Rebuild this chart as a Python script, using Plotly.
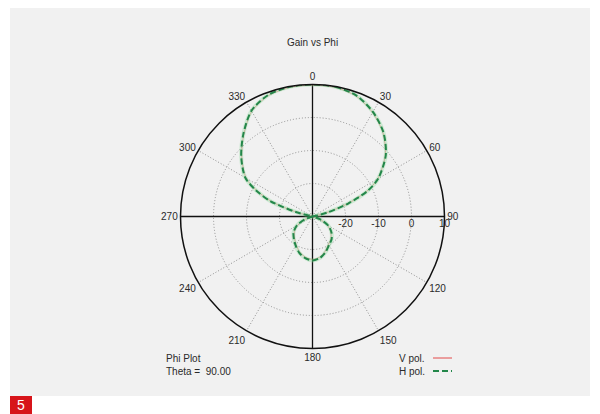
import plotly.graph_objects as go

phi = [0, 10, 20, 30, 40, 50, 60, 65, 70, 75, 80, 90, 100, 110, 120, 130, 140,
       150, 160, 170, 180, 190, 200, 210, 220, 230, 240, 250, 260, 270, 280,
       285, 290, 295, 300, 310, 320, 330, 340, 350, 360]
h_pol = [10.0, 9.9, 9.0, 6.6, 3.4, -1.0, -7.0, -11.5, -18.5, -25.5, -30, -30, -30,
         -27.5, -24.5, -22.5, -21.0, -20.0, -18.5, -17.2, -16.7, -17.2, -18.3,
         -19.8, -21.2, -22.5, -24.5, -27.5, -30, -30, -30, -25, -16.5, -11.0,
         -6.5, -1.8, 2.6, 7.0, 9.2, 9.9, 10.0]
v_pol = [9.8, 9.7, 8.8, 6.4, 3.2, -1.2, -7.2, -11.8, -18.8, -25.8, -30, -30, -30,
         -27.8, -24.8, -22.8, -21.3, -20.3, -18.8, -17.5, -17.0, -17.5, -18.6,
         -20.1, -21.5, -22.8, -24.8, -27.8, -30, -30, -30, -25.3, -16.8, -11.3,
         -6.8, -2.0, 2.4, 6.8, 9.0, 9.7, 9.8]

r_min, r_max = -30, 10
r_ticks = [-20, -10, 0, 10]
theta_ticks = list(range(0, 360, 30))
axis_dirs = [0, 90]

font = "Liberation Sans, Arial, sans-serif"
txt_color = "#2a2a2a"

fig = go.Figure()

# krzyż osi (linie ciągłe przez środek)
for a in axis_dirs:
    fig.add_trace(go.Scatterpolar(
        r=[r_max, r_min, r_max], theta=[a, a, a + 180], mode="lines",
        line=dict(color="#111111", width=1.3), showlegend=False, hoverinfo="skip"
    ))

fig.add_trace(go.Scatterpolar(
    r=v_pol, theta=phi, mode="lines", name="V pol.",
    line=dict(color="#e34a4a", width=1, shape="spline", smoothing=0.8), opacity=0.5
))
# jasna poświata pod linią przerywaną
fig.add_trace(go.Scatterpolar(
    r=h_pol, theta=phi, mode="lines", showlegend=False, hoverinfo="skip",
    line=dict(color="rgba(140,220,155,0.35)", width=4, shape="spline", smoothing=0.8)
))
fig.add_trace(go.Scatterpolar(
    r=h_pol, theta=phi, mode="lines", name="H pol.",
    line=dict(color="#23874a", width=2, dash="6px,3px", shape="spline", smoothing=0.8)
))

cx, cy, rad = 312.5, 216.5, 132
W, H = 600, 414


def note(text, x, y, anchor="left", size=10, color=txt_color):
    return dict(text=text, x=x / W, y=1 - y / H, xref="paper", yref="paper",
                xanchor=anchor, yanchor="middle", showarrow=False,
                font=dict(size=size, color=color))


fig.update_layout(
    width=W, height=H,
    margin=dict(l=0, r=0, t=0, b=0),
    paper_bgcolor="#ffffff",
    showlegend=False,
    font=dict(family=font, size=10, color=txt_color),
    polar=dict(
        domain=dict(x=[(cx - rad) / W, (cx + rad) / W],
                    y=[1 - (cy + rad) / H, 1 - (cy - rad) / H]),
        bgcolor="rgba(0,0,0,0)",
        angularaxis=dict(
            rotation=90, direction="clockwise",
            tickmode="array", tickvals=theta_ticks,
            ticktext=[str(t) for t in theta_ticks],
            showline=True, linecolor="#111111", linewidth=1.5,
            gridcolor="#909090", griddash="1px,2px", gridwidth=1,
            ticks="", tickfont=dict(size=10, color=txt_color)
        ),
        radialaxis=dict(
            range=[r_min, r_max], angle=0, side="clockwise",
            tickmode="array", tickvals=r_ticks,
            ticktext=[str(t) for t in r_ticks],
            showline=False, ticks="",
            gridcolor="#909090", griddash="1px,2px", gridwidth=1,
            tickfont=dict(size=10, color=txt_color)
        )
    ),
    shapes=[
        dict(type="rect", xref="paper", yref="paper",
             x0=10 / W, x1=590 / W, y0=1 - 396 / H, y1=1 - 8 / H,
             fillcolor="#f1f1f1", line=dict(width=0), layer="below"),
        dict(type="rect", xref="paper", yref="paper",
             x0=10 / W, x1=32 / W, y0=0, y1=1 - 396 / H,
             fillcolor="#d7141a", line=dict(width=0)),
        dict(type="line", xref="paper", yref="paper",
             x0=433 / W, x1=452 / W, y0=1 - 358 / H, y1=1 - 358 / H,
             line=dict(color="#e34a4a", width=1)),
        dict(type="line", xref="paper", yref="paper",
             x0=433 / W, x1=452 / W, y0=1 - 371 / H, y1=1 - 371 / H,
             line=dict(color="#23874a", width=2, dash="6px,3px")),
    ],
    annotations=[
        note("Gain vs Phi", 313, 42, anchor="center"),
        note("Phi Plot", 164, 358),
        note("Theta =  90.00", 164, 371),
        note("V pol.", 397, 358),
        note("H pol.", 397, 371),
        note("5", 21, 405, anchor="center", size=14, color="#ffffff"),
    ]
)

fig.write_html("out.html", config={"displayModeBar": False},
               post_script="document.body.style.margin='0px';")
